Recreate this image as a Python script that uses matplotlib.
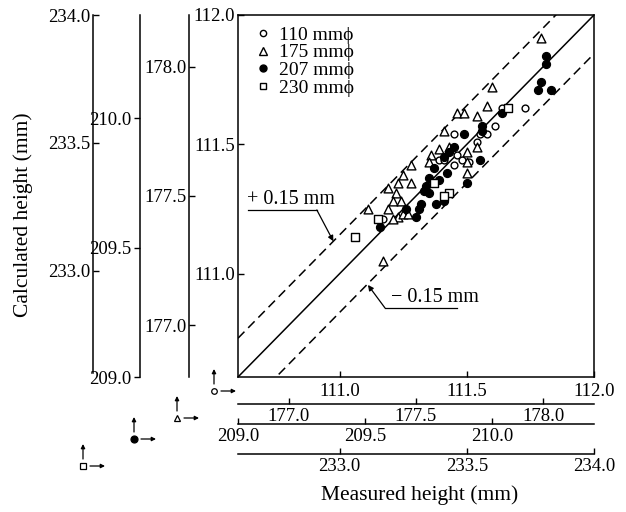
import matplotlib
matplotlib.use("Agg")
import matplotlib.pyplot as plt
from matplotlib.lines import Line2D

plt.rcParams["font.family"] = ["Liberation Serif", "DejaVu Serif"]
plt.rcParams["font.size"] = 13.5

# Each pipe diameter is plotted on its own pair of scales (same 1.4 mm span).
LIM_110 = (110.6, 112.0)
LIM_175 = (176.8, 178.2)
LIM_207 = (209.0, 210.4)
LIM_230 = (232.6, 234.0)

TICKS_110 = [111.0, 111.5, 112.0]
TICKS_175 = [177.0, 177.5, 178.0]
TICKS_207 = [209.0, 209.5, 210.0]
TICKS_230 = [233.0, 233.5, 234.0]

TOLERANCE = 0.15

# measured / calculated heights (mm)
meas_110 = [111.73, 111.64, 111.61, 111.58, 111.55, 111.54, 111.45, 111.39,
            111.46, 111.48, 111.45, 111.17, 111.41, 111.51]
calc_110 = [111.64, 111.64, 111.57, 111.54, 111.54, 111.51, 111.54, 111.44,
            111.46, 111.44, 111.42, 111.21, 111.44, 111.43]

meas_175 = [177.99, 177.80, 177.78, 177.66, 177.69, 177.74, 177.61, 177.56,
            177.59, 177.63, 177.70, 177.74, 177.70, 177.70, 177.48, 177.45,
            177.43, 177.48, 177.39, 177.42, 177.41, 177.44, 177.31, 177.39,
            177.43, 177.45, 177.47, 177.41, 177.37, 177.55]
calc_175 = [178.11, 177.92, 177.85, 177.82, 177.82, 177.81, 177.75, 177.66,
            177.68, 177.69, 177.67, 177.69, 177.63, 177.59, 177.62, 177.58,
            177.55, 177.55, 177.53, 177.51, 177.48, 177.48, 177.45, 177.45,
            177.42, 177.43, 177.43, 177.41, 177.25, 177.63]

meas_207 = [210.21, 210.21, 210.19, 210.18, 210.23, 210.04, 209.96, 209.96,
            209.95, 209.89, 209.85, 209.83, 209.81, 209.77, 209.82, 209.75,
            209.79, 209.74, 209.73, 209.75, 209.78, 209.81, 209.72, 209.71,
            209.70, 209.66, 209.56, 209.90]
calc_207 = [210.24, 210.21, 210.14, 210.11, 210.11, 210.02, 209.97, 209.95,
            209.84, 209.94, 209.89, 209.87, 209.85, 209.81, 209.79, 209.77,
            209.76, 209.74, 209.72, 209.71, 209.67, 209.68, 209.67, 209.65,
            209.62, 209.65, 209.58, 209.75]

meas_230 = [233.06, 233.15, 233.66, 233.43, 233.37, 233.41]
calc_230 = [233.14, 233.21, 233.64, 233.31, 233.35, 233.30]

W, H = 626, 512


def px_rect(x0, y0, x1, y1):
    """Figure-fraction rect from pixel corners (origin top-left)."""
    return [x0 / W, 1 - y1 / H, max(x1 - x0, 0.05) / W, max(y1 - y0, 0.05) / H]


def bare_scale(fig, rect, lim, ticks, which, direction, pad=2):
    """An axes showing a single spine with ticks, used as an extra scale."""
    ax = fig.add_axes(rect)
    ax.patch.set_visible(False)
    for s in ax.spines.values():
        s.set_visible(False)
    side = "left" if which == "y" else "bottom"
    ax.spines[side].set_visible(True)
    ax.spines[side].set_linewidth(1.1)
    if which == "y":
        ax.set_ylim(lim)
        ax.set_yticks(ticks, [f"{t:.1f}" for t in ticks])
        ax.set_xticks([])
        ax.tick_params(axis="y", direction=direction, length=4.5, width=1.0, pad=pad)
    else:
        ax.set_xlim(lim)
        ax.set_xticks(ticks, [f"{t:.1f}" for t in ticks])
        ax.set_yticks([])
        ax.tick_params(axis="x", direction=direction, length=4.5, width=1.0, pad=pad)
    return ax


fig = plt.figure(figsize=(W / 100, H / 100), dpi=100)

main_rect = px_rect(238, 15, 594, 377)
ax = fig.add_axes(main_rect)
ax.set_xlim(LIM_110)
ax.set_ylim(LIM_110)
ax.set_xticks(TICKS_110, [f"{t:.1f}" for t in TICKS_110])
ax.set_yticks(TICKS_110, [f"{t:.1f}" for t in TICKS_110])
ax.tick_params(direction="in", length=4.5, width=1.0)
ax.tick_params(axis="x", pad=4)
ax.tick_params(axis="y", pad=2)
for s in ax.spines.values():
    s.set_linewidth(1.1)

# 1:1 line and the +/- tolerance band
ax.plot(LIM_110, LIM_110, color="black", lw=1.1)
for sign in (1, -1):
    ax.plot(LIM_110, [v + sign * TOLERANCE for v in LIM_110], color="black",
            lw=1.1, dashes=(6, 3.5))

# leader labels for the tolerance lines
ax.plot([110.64, 110.91], [111.246, 111.246], color="black", lw=0.9)
ax.annotate("", xy=(110.975, 111.125), xytext=(110.91, 111.246),
            arrowprops=dict(arrowstyle="-|>", color="black", lw=0.9,
                            mutation_scale=8, shrinkA=0, shrinkB=0))
ax.text(110.635, 111.25, "+ 0.15 mm", ha="left", va="bottom", fontsize=14.5)

ax.plot([111.178, 111.461], [110.867, 110.867], color="black", lw=0.9)
ax.annotate("", xy=(111.111, 110.956), xytext=(111.178, 110.867),
            arrowprops=dict(arrowstyle="-|>", color="black", lw=0.9,
                            mutation_scale=8, shrinkA=0, shrinkB=0))
ax.text(111.2, 110.871, "− 0.15 mm", ha="left", va="bottom", fontsize=14.5)

# one overlay per diameter, each on its own scale
series = [
    (meas_110, calc_110, LIM_110, dict(marker="o", s=24, facecolors="white")),
    (meas_175, calc_175, LIM_175, dict(marker="^", s=40, facecolors="white")),
    (meas_207, calc_207, LIM_207, dict(marker="o", s=32, facecolors="black")),
    (meas_230, calc_230, LIM_230, dict(marker="s", s=28, facecolors="white")),
]
for xs, ys, lim, style in series:
    sub = fig.add_axes(main_rect)
    sub.set_xlim(lim)
    sub.set_ylim(lim)
    sub.axis("off")
    sub.scatter(xs, ys, edgecolors="black", linewidths=1.0, zorder=3, **style)

legend_handles = [
    Line2D([], [], ls="none", marker="o", ms=4.5, mfc="white", mec="black", mew=1.0),
    Line2D([], [], ls="none", marker="^", ms=6, mfc="white", mec="black", mew=1.0),
    Line2D([], [], ls="none", marker="o", ms=5, mfc="black", mec="black"),
    Line2D([], [], ls="none", marker="s", ms=5, mfc="white", mec="black", mew=1.0),
]
legend_labels = ["110 mm\u03d5", "175 mm\u03d5", "207 mm\u03d5", "230 mm\u03d5"]
sub.legend(legend_handles, legend_labels, loc="upper left",
           bbox_to_anchor=(0.005, 1.012), frameon=False, handlelength=0.8,
           handletextpad=0.4, labelspacing=0.0, borderaxespad=0.4,
           fontsize=14)

# extra vertical scales on the left
bare_scale(fig, px_rect(93, 15, 93, 373), LIM_230, TICKS_230, "y", "in")
bare_scale(fig, px_rect(140, 15, 140, 377), LIM_207, TICKS_207, "y", "out")
bare_scale(fig, px_rect(189, 15, 189, 377), LIM_175, TICKS_175, "y", "in")

# extra horizontal scales underneath
bare_scale(fig, px_rect(238, 404, 594, 404), LIM_175, TICKS_175, "x", "in", pad=3)
bare_scale(fig, px_rect(238, 424, 594, 424), LIM_207, TICKS_207, "x", "in", pad=3)
bare_scale(fig, px_rect(238, 454, 594, 454), LIM_230, TICKS_230, "x", "in", pad=3)

# key showing which pair of scales belongs to each symbol
key = fig.add_axes([0, 0, 1, 1])
key.set_xlim(0, W)
key.set_ylim(H, 0)
key.axis("off")
key_marks = [
    (214, 391, dict(marker="o", ms=4, mfc="white")),
    (177, 418, dict(marker="^", ms=5, mfc="white")),
    (134, 439, dict(marker="o", ms=5, mfc="black")),
    (83, 466, dict(marker="s", ms=4, mfc="white")),
]
for kx, ky, style in key_marks:
    key.plot([kx], [ky], ls="none", mec="black", mew=0.9, **style)
    arrow = dict(arrowstyle="-|>", color="black", lw=0.9, mutation_scale=6,
                 shrinkA=0, shrinkB=0)
    key.annotate("", xy=(kx, ky - 22), xytext=(kx, ky - 7), arrowprops=arrow)
    key.annotate("", xy=(kx + 22, ky), xytext=(kx + 7, ky), arrowprops=arrow)

fig.text(23 / W, 1 - 215 / H, "Calculated height (mm)", rotation=90,
         ha="center", va="center", fontsize=15.5)
fig.text(420 / W, 1 - 495 / H, "Measured height (mm)", ha="center",
         va="center", fontsize=15.5)

fig.savefig("out.png", dpi=100)
